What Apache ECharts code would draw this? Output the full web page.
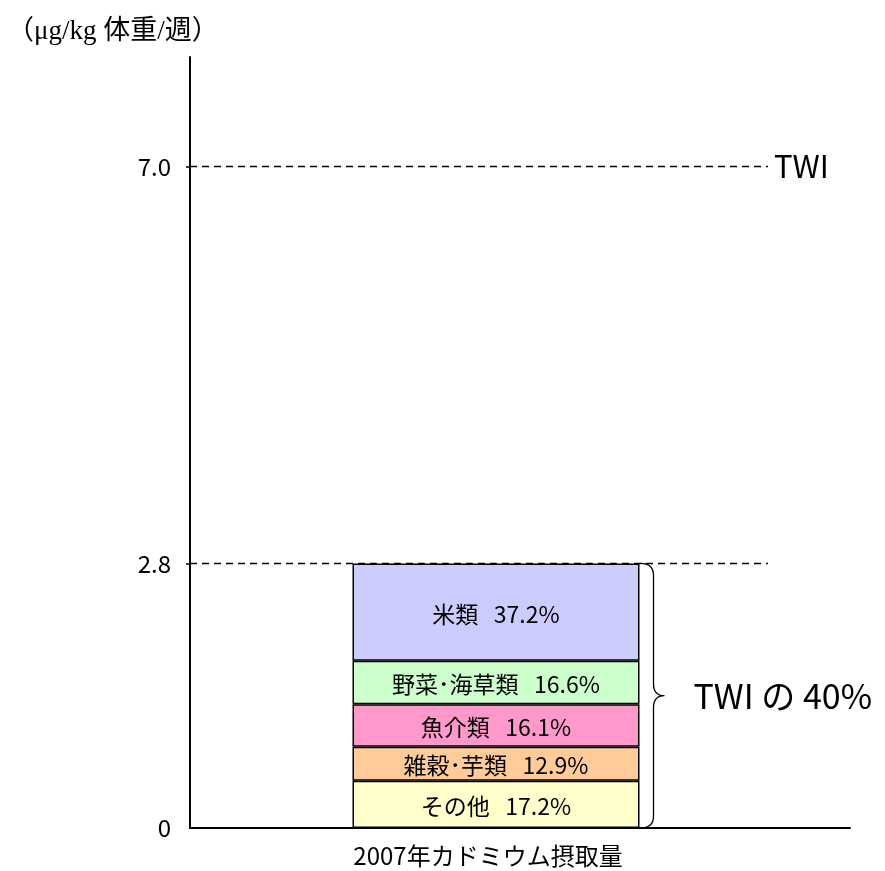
<!DOCTYPE html>
<html><head><meta charset="utf-8">
<script src="https://cdn.jsdelivr.net/npm/echarts@6/dist/echarts.min.js"></script>
<style>html,body{margin:0;padding:0;background:#fff}#c{width:885px;height:871px}</style>
</head><body><div id="c"></div>
<script>
// ---- data ----
const categories = ['2007年カドミウム摂取量'];
const segmentNames = ['その他', '雑穀･芋類', '魚介類', '野菜･海草類', '米類'];
const segmentValues = [0.50, 0.36, 0.45, 0.46, 1.03];   // μg/kg 体重/週
const segmentShares = ['17.2%', '12.9%', '16.1%', '16.6%', '37.2%'];
const segmentColors = ['#FFFFCC', '#FFCC99', '#FF99CC', '#CCFFCC', '#CCCCFF'];
const yTickValues = [0, 2.8, 7.0];
const twiValue = 7.0;
const intakeTotal = 2.8;
const braceLabel = 'TWI の 40%';
const yName = '（μg/kg 体重/週）';

const FONT = '"Noto Sans CJK JP", "Noto Sans", sans-serif';
const yMax = 8.16;
const BAR_W = 287;

const chart = echarts.init(document.getElementById('c'));

const barSeries = segmentNames.map((n, i) => ({
  name: n, type: 'bar', stack: 'total', xAxisIndex: 1, yAxisIndex: 1,
  barWidth: BAR_W,
  data: [segmentValues[i]],
  itemStyle: { color: segmentColors[i], borderColor: '#000', borderWidth: 1.5 },
  label: {
    show: true, position: 'inside', color: '#000', fontFamily: FONT, fontSize: 23,
    offset: [0, 2],
    formatter: () => n + '   ' + segmentShares[i]
  },
  emphasis: { disabled: true }
}));

const twiLabel = { show: true, position: 'end', formatter: 'TWI', color: '#000', fontFamily: FONT, fontSize: 31, distance: 6 };

const option = {
  animation: false,
  backgroundColor: '#fff',
  title: {
    text: yName, left: 2, top: 13,
    textStyle: { fontFamily: '"Liberation Serif", "Noto Sans CJK JP", serif', fontSize: 27, fontWeight: 'normal', color: '#000' }
  },
  grid: [
    { left: 190, right: 35, top: 57, bottom: 43 },
    { left: 190, right: 83, top: 57, bottom: 43 }
  ],
  xAxis: [
    { gridIndex: 0, type: 'value', min: 0, max: 660,
      axisLine: { show: true, onZero: false, lineStyle: { color: '#000', width: 2 } },
      axisTick: { show: false }, axisLabel: { show: false }, splitLine: { show: false } },
    { gridIndex: 1, type: 'category', data: categories,
      axisLine: { show: false }, axisTick: { show: false },
      axisLabel: { color: '#000', fontFamily: FONT, fontSize: 24, margin: 16, padding: [0, 16, 0, 0] } }
  ],
  yAxis: [
    { gridIndex: 0, type: 'value', min: 0, max: yMax,
      axisLine: { show: true, lineStyle: { color: '#000', width: 2 } },
      axisTick: { show: true, customValues: yTickValues.filter(v => v > 0), length: 4, lineStyle: { color: '#000', width: 1.5 } },
      axisLabel: { customValues: yTickValues, color: '#000', fontFamily: FONT, fontSize: 24, margin: 19,
        formatter: v => v === 0 ? '0' : v.toFixed(1) },
      splitLine: { show: false } },
    { gridIndex: 1, type: 'value', min: 0, max: yMax, show: false }
  ],
  series: [
    {
      type: 'line', xAxisIndex: 0, yAxisIndex: 0, data: [], silent: true,
      markLine: {
        silent: true, symbol: 'none',
        lineStyle: { color: '#000', type: [7, 5], width: 1.3 },
        label: { show: false },
        data: [
          [{ coord: [0, twiValue], label: twiLabel }, { coord: [578, twiValue], label: twiLabel }],
          [{ coord: [0, intakeTotal] }, { coord: [578, intakeTotal] }]
        ]
      }
    },
    ...barSeries,
    {
      type: 'custom', xAxisIndex: 1, yAxisIndex: 1, silent: true, clip: false, z: 5,
      data: [[0, 0, intakeTotal]],
      renderItem: (params, api) => {
        const top = api.coord([api.value(0), api.value(2)]);
        const bot = api.coord([api.value(0), api.value(1)]);
        const xR = top[0] + BAR_W / 2 + 1;
        const yTop = top[1], yBot = bot[1], yMid = (yTop + yBot) / 2;
        const bx = xR + 13, tip = xR + 24, r = 12;
        const path = `M${xR},${yTop} Q${bx},${yTop} ${bx},${yTop + r} L${bx},${yMid - r} Q${bx},${yMid} ${tip},${yMid} Q${bx},${yMid} ${bx},${yMid + r} L${bx},${yBot - r} Q${bx},${yBot} ${xR},${yBot}`;
        return {
          type: 'group',
          children: [
            { type: 'path', shape: { pathData: path }, style: { fill: null, stroke: '#000', lineWidth: 1.3 } },
            { type: 'text', style: { text: braceLabel, x: tip + 29, y: yMid, fontFamily: FONT, fontSize: 34, fill: '#000', verticalAlign: 'middle' } }
          ]
        };
      }
    }
  ]
};
chart.setOption(option);
</script>
</body></html>
